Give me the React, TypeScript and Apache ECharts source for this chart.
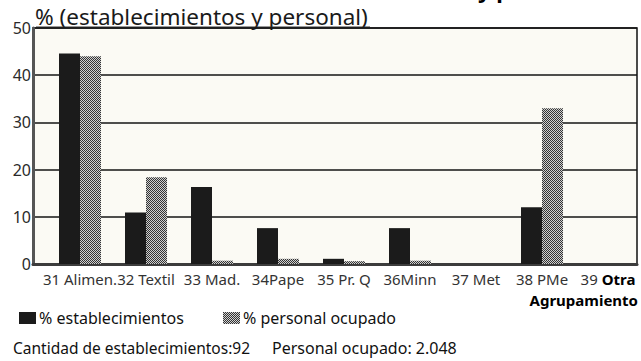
import React, { useEffect, useRef } from "react";
import * as echarts from "echarts";

// Agrupamientos industriales (CIIU) y su participación porcentual
const categories = [
  "31 Alimen.",
  "32 Textil",
  "33 Mad.",
  "34Pape",
  "35 Pr. Q",
  "36Minn",
  "37 Met",
  "38 PMe",
  "39 Otra",
];
const establecimientos = [44.6, 10.9, 16.3, 7.6, 1.1, 7.6, 0, 12.0, 0];
const personalOcupado = [44.0, 18.4, 0.7, 1.1, 0.6, 0.7, 0, 33.0, 0];

const yMin = 0;
const yMax = 50;
const yStep = 10;

const FONT = "'Noto Sans', 'Open Sans', sans-serif";

function checkerPattern(): HTMLCanvasElement {
  const c = document.createElement("canvas");
  c.width = 2;
  c.height = 2;
  const ctx = c.getContext("2d")!;
  ctx.fillStyle = "#d0d0d0";
  ctx.fillRect(0, 0, 2, 2);
  ctx.fillStyle = "#333333";
  ctx.fillRect(0, 0, 1, 1);
  ctx.fillRect(1, 1, 1, 1);
  return c;
}

export default function App() {
  const ref = useRef<HTMLDivElement>(null);

  useEffect(() => {
    document.body.style.margin = "0";
    const chart = echarts.init(ref.current!, null, { renderer: "svg" });
    const pattern = { image: checkerPattern(), repeat: "repeat" as const };

    const plotTop = 28;
    const plotBottom = 97;

    chart.setOption({
      animation: false,
      backgroundColor: "#ffffff",
      textStyle: { fontFamily: FONT },
      grid: [
        // framed plot area with the value axis
        {
          left: 33,
          right: 4,
          top: plotTop,
          bottom: plotBottom,
          show: true,
          backgroundColor: "#fbfaf4",
          borderColor: "#111",
          borderWidth: 1.5,
        },
        // bar layout, categories spaced a little to the right of the frame
        {
          left: 47,
          width: 607,
          top: plotTop,
          bottom: plotBottom,
        },
      ],
      legend: [
        {
          left: 14,
          top: 305,
          itemWidth: 17,
          itemHeight: 12,
          icon: "rect",
          data: ["% establecimientos"],
          textStyle: { fontFamily: FONT, fontSize: 16, color: "#111", padding: [0, 0, 0, -2] },
        },
        {
          left: 218,
          top: 305,
          itemWidth: 17,
          itemHeight: 12,
          icon: "rect",
          data: ["% personal ocupado"],
          textStyle: { fontFamily: FONT, fontSize: 16, color: "#111", padding: [0, 0, 0, -2] },
        },
      ],
      xAxis: [
        {
          gridIndex: 0,
          type: "category",
          data: categories,
          axisLine: { lineStyle: { color: "#3c3c3c", width: 3 } },
          axisTick: { show: false },
          axisLabel: { show: false },
        },
        {
          gridIndex: 1,
          type: "category",
          data: categories,
          axisLine: { show: false },
          axisTick: { show: false },
          axisLabel: {
            interval: 0,
            margin: 7,
            fontFamily: FONT,
            fontSize: 15,
            color: "#333",
            formatter: (v: string) => (v === "39 Otra" ? "{n|39 }{b|Otra}" : v),
            rich: {
              n: { fontFamily: FONT, fontSize: 15, color: "#333" },
              b: { fontFamily: FONT, fontSize: 15, color: "#000", fontWeight: "bold" },
            },
          },
        },
      ],
      yAxis: [
        {
          gridIndex: 0,
          type: "value",
          min: yMin,
          max: yMax,
          interval: yStep,
          axisLine: { show: true, lineStyle: { color: "#555", width: 3 } },
          axisTick: { show: false },
          axisLabel: { margin: 2, fontFamily: FONT, fontSize: 16, color: "#2a2a2a" },
          splitLine: { show: true, lineStyle: { color: "#151515", width: 1.5 } },
        },
        {
          gridIndex: 1,
          type: "value",
          min: yMin,
          max: yMax,
          interval: yStep,
          show: false,
          splitLine: { show: false },
        },
      ],
      series: [
        {
          name: "% establecimientos",
          type: "bar",
          xAxisIndex: 1,
          yAxisIndex: 1,
          data: establecimientos,
          barWidth: 21,
          barGap: "0%",
          itemStyle: { color: "#1b1b1b" },
        },
        {
          name: "% personal ocupado",
          type: "bar",
          xAxisIndex: 1,
          yAxisIndex: 1,
          data: personalOcupado,
          barWidth: 21,
          itemStyle: { color: pattern },
        },
      ],
      graphic: [
        {
          type: "text",
          left: 478,
          top: -22,
          style: {
            text: "y personal",
            font: `bold 22px ${FONT}`,
            fill: "#000",
          },
        },
        {
          type: "text",
          x: 35,
          y: 16,
          style: {
            text: "% (establecimientos y personal)",
            font: `22.5px ${FONT}`,
            fill: "#1a1a1a",
            textVerticalAlign: "middle",
          },
        },
        {
          type: "line",
          shape: { x1: 36, y1: 27, x2: 370, y2: 27 },
          style: { stroke: "#333", lineWidth: 1 },
        },
        {
          type: "text",
          x: 638,
          y: 300,
          style: {
            text: "Agrupamiento",
            font: `bold 15px ${FONT}`,
            fill: "#000",
            textAlign: "right",
            textVerticalAlign: "middle",
          },
        },
        {
          type: "text",
          x: 13,
          y: 348,
          style: {
            text: "Cantidad de establecimientos:92",
            font: `15.5px ${FONT}`,
            fill: "#111",
            textVerticalAlign: "middle",
          },
        },
        {
          type: "text",
          x: 272,
          y: 348,
          style: {
            text: "Personal ocupado: 2.048",
            font: `16px ${FONT}`,
            fill: "#111",
            textVerticalAlign: "middle",
          },
        },
      ],
    });

    return () => chart.dispose();
  }, []);

  return <div ref={ref} style={{ width: 641, height: 361 }} />;
}
